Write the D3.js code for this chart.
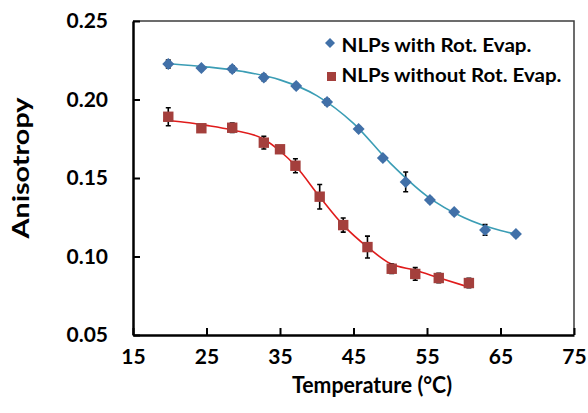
<!DOCTYPE html>
<html><head><meta charset="utf-8">
<script src="https://cdn.jsdelivr.net/npm/d3@7"></script>
<style>body{margin:0;background:#fff;} svg{display:block;}</style>
</head><body><svg id="c" width="588" height="413"></svg>
<script>
// ---- data ----
const seriesNames = ["NLPs with Rot. Evap.", "NLPs without Rot. Evap."];
const tempWith = [19.8, 24.3, 28.5, 32.8, 37.2, 41.4, 45.7, 49.0, 52.1, 55.4, 58.7, 62.9, 67.1];
const anisoWith = [0.2226, 0.2200, 0.2194, 0.2140, 0.2086, 0.1984, 0.1812, 0.1627, 0.1475, 0.1360, 0.1283, 0.1169, 0.1143];
const errWith = [0.0025, 0.0015, 0.002, 0.002, 0.0015, 0.002, 0.0015, 0.0015, 0.0063, 0.0015, 0.0015, 0.0034, 0.0015];
const tempWithout = [19.8, 24.3, 28.5, 32.8, 35.0, 37.1, 40.4, 43.6, 46.9, 50.2, 53.4, 56.6, 60.7];
const anisoWithout = [0.1890, 0.1817, 0.1820, 0.1725, 0.1683, 0.1578, 0.1381, 0.1200, 0.1060, 0.0922, 0.0889, 0.0863, 0.0831];
const errWithout = [0.0057, 0.0015, 0.003, 0.004, 0.0015, 0.0045, 0.0078, 0.0045, 0.007, 0.003, 0.004, 0.003, 0.003];
// fitted curves
const fitTempWith = [20, 25, 30, 35, 40, 45, 50, 55, 60, 65, 67];
const fitWith = [0.2228, 0.2208, 0.2178, 0.2125, 0.2025, 0.1848, 0.1595, 0.1385, 0.1248, 0.1165, 0.1143];
const fitTempWithout = [19.1, 22, 25, 28.5, 32.8, 35, 37.1, 40.4, 43.6, 46.9, 50, 53.4, 56.6, 60.7];
const fitWithout = [0.1868, 0.1855, 0.1835, 0.1806, 0.1747, 0.1672, 0.1578, 0.1380, 0.1200, 0.1060, 0.0955, 0.0912, 0.0865, 0.0805];
const xTicks = [15, 25, 35, 45, 55, 65, 75];
const yTicks = [0.05, 0.10, 0.15, 0.20, 0.25];
const xTitle = "Temperature (°C)";
const yTitle = "Anisotropy";

// ---- drawing ----
const FONT = "Lato, 'Open Sans', sans-serif";
const svg = d3.select("#c");
const x = d3.scaleLinear().domain([15, 75]).range([133, 574]);
const y = d3.scaleLinear().domain([0.05, 0.25]).range([335, 21]);

const blueM = "#4170A8", blueL = "#3B9DB5", redM = "#A43F3C", redL = "#E01B1B";

// top/right frame
svg.append("path")
  .attr("d", `M${x(15)},${y(0.25)}H${x(75)}V${y(0.05)}`)
  .attr("fill", "none").attr("stroke", "#3c3c3c").attr("stroke-width", 1.5);

const ya = svg.append("g").attr("transform", `translate(${x(15)},0)`)
  .call(d3.axisLeft(y).tickValues(yTicks).tickSizeInner(-7).tickSizeOuter(0)
    .tickPadding(25).tickFormat(d3.format(".2f")));
const xa = svg.append("g").attr("transform", `translate(0,${y(0.05)})`)
  .call(d3.axisBottom(x).tickValues(xTicks).tickSizeInner(-7).tickSizeOuter(0)
    .tickPadding(14).tickFormat(d3.format("d")));
[ya, xa].forEach(g => {
  g.attr("font-family", FONT).attr("font-size", 21).attr("font-weight", "bold");
  g.select(".domain").attr("stroke", "#000").attr("stroke-width", 2.5);
  g.selectAll(".tick line").attr("stroke", "#000").attr("stroke-width", 2);
  g.selectAll(".tick text").attr("fill", "#000");
});

// fit lines
const line = d3.line().x(d => x(d[0])).y(d => y(d[1])).curve(d3.curveMonotoneX);
svg.append("path").datum(d3.zip(fitTempWith, fitWith)).attr("d", line)
  .attr("fill", "none").attr("stroke", blueL).attr("stroke-width", 1.6);
svg.append("path").datum(d3.zip(fitTempWithout, fitWithout)).attr("d", line)
  .attr("fill", "none").attr("stroke", redL).attr("stroke-width", 1.6);

// error bars
function errorBars(xs, ys, es) {
  const g = svg.append("g").attr("stroke", "#000").attr("stroke-width", 1.6);
  xs.forEach((t, i) => {
    const cx = x(t), y1 = y(ys[i] + es[i]), y2 = y(ys[i] - es[i]);
    g.append("path").attr("d", `M${cx},${y1}V${y2}M${cx - 2.5},${y1}H${cx + 2.5}M${cx - 2.5},${y2}H${cx + 2.5}`);
  });
}
errorBars(tempWith, anisoWith, errWith);
errorBars(tempWithout, anisoWithout, errWithout);

// markers
const diamond = "M0,-6L6,0L0,6L-6,0Z";
const square = "M-5.2,-5.2H5.2V5.2H-5.2Z";
svg.append("g").selectAll("path").data(d3.zip(tempWith, anisoWith)).join("path")
  .attr("d", diamond).attr("fill", blueM)
  .attr("transform", d => `translate(${x(d[0])},${y(d[1])})`);
svg.append("g").selectAll("path").data(d3.zip(tempWithout, anisoWithout)).join("path")
  .attr("d", square).attr("fill", redM)
  .attr("transform", d => `translate(${x(d[0])},${y(d[1])})`);

// legend
const lg = svg.append("g");
lg.append("path").attr("d", "M0,-5L5,0L0,5L-5,0Z").attr("fill", blueM).attr("transform", "translate(330,43)");
lg.append("path").attr("d", "M-4.5,-4.5H4.5V4.5H-4.5Z").attr("fill", redM).attr("transform", "translate(331.5,76.5)");
lg.append("text").attr("x", 341.5).attr("y", 51.5).text(seriesNames[0])
  .attr("font-family", FONT).attr("font-weight", "bold").attr("font-size", 19)
  .attr("textLength", 190).attr("lengthAdjust", "spacingAndGlyphs");
lg.append("text").attr("x", 341.5).attr("y", 81.5).text(seriesNames[1])
  .attr("font-family", FONT).attr("font-weight", "bold").attr("font-size", 19)
  .attr("textLength", 220).attr("lengthAdjust", "spacingAndGlyphs");

// axis titles
svg.append("text").attr("x", 372).attr("y", 393).attr("text-anchor", "middle").text(xTitle)
  .attr("font-family", FONT).attr("font-weight", "bold").attr("font-size", 23)
  .attr("textLength", 160).attr("lengthAdjust", "spacingAndGlyphs");
svg.append("text").attr("transform", "translate(29,168) rotate(-90)").attr("text-anchor", "middle").text(yTitle)
  .attr("font-family", FONT).attr("font-weight", "bold").attr("font-size", 22)
  .attr("textLength", 141).attr("lengthAdjust", "spacingAndGlyphs");
</script>
</body></html>
